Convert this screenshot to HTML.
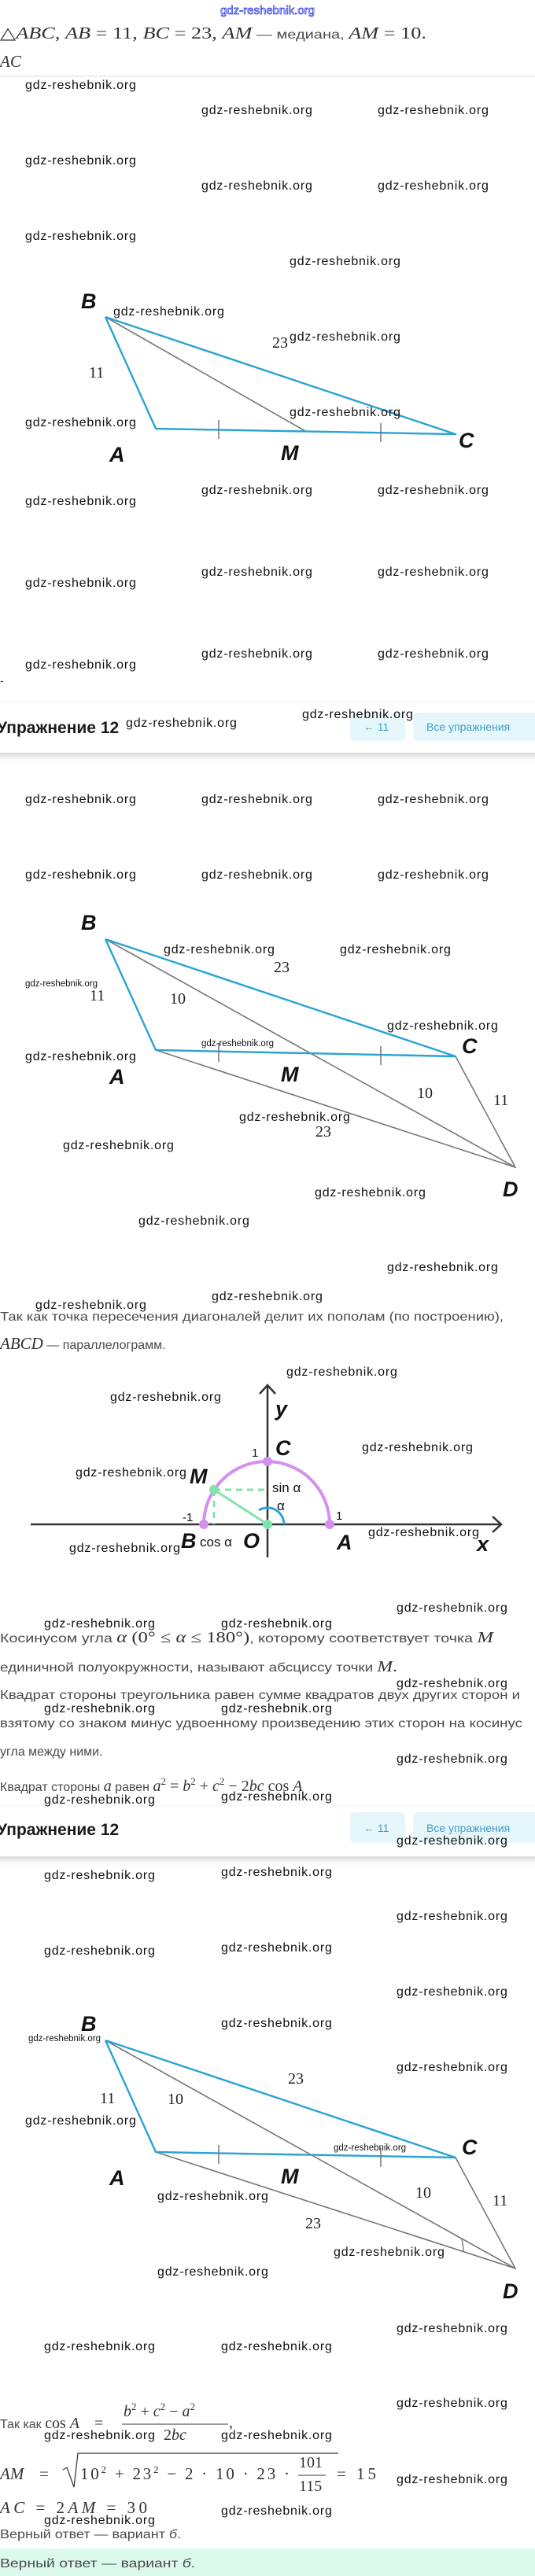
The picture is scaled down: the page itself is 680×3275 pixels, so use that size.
<!DOCTYPE html>
<html><head><meta charset="utf-8">
<style>
html,body{margin:0;padding:0;background:#fff;}
svg{display:block;}
.wm{font-family:"Liberation Sans",sans-serif;font-size:16px;fill:#111;letter-spacing:0.8px;}
.wms{font-family:"Liberation Sans",sans-serif;font-size:11.5px;fill:#111;}
.t{font-family:"Liberation Sans",sans-serif;font-size:16px;fill:#4a4a4a;}
.m{font-family:"Liberation Serif",serif;font-style:italic;fill:#333;}
.n{font-family:"Liberation Serif",serif;fill:#333;}
.lbl{font-family:"Liberation Sans",sans-serif;font-weight:bold;font-style:italic;font-size:27px;fill:#111;}
.num{font-family:"Liberation Serif",serif;font-size:20px;fill:#222;}
.hd{font-family:"Liberation Sans",sans-serif;font-weight:bold;font-size:21px;fill:#1a1a1a;}
.bt{font-family:"Liberation Sans",sans-serif;font-size:14px;fill:#3f9cc9;}
</style></head><body>
<svg width="680" height="3275" viewBox="0 0 680 3275" xmlns="http://www.w3.org/2000/svg">
<defs>
<filter id="sh" x="-5%" y="-50%" width="110%" height="200%"><feDropShadow dx="0" dy="4" stdDeviation="4" flood-color="#000" flood-opacity="0.18"/></filter>
</defs>

<!-- top -->
<text x="340" y="18" text-anchor="middle" font-family="Liberation Sans, sans-serif" font-size="15" fill="#fff" stroke="#3344dd" stroke-width="0.8">gdz-reshebnik.org</text>
<text y="49" x="0" font-size="21" textLength="542" lengthAdjust="spacingAndGlyphs"><tspan class="n">△</tspan><tspan class="m">ABC</tspan><tspan class="n">, </tspan><tspan class="m">AB</tspan><tspan class="n"> = 11, </tspan><tspan class="m">BC</tspan><tspan class="n"> = 23, </tspan><tspan class="m">AM</tspan><tspan class="t" font-size="16"> — медиана, </tspan><tspan class="m">AM</tspan><tspan class="n"> = 10.</tspan></text>
<text x="0" y="85" class="m" font-size="21">AC</text>
<line x1="0" y1="97" x2="680" y2="97" stroke="#eee" stroke-width="2"/>

<!-- triangle 1 -->
<g fill="none">
<line x1="134" y1="403" x2="388" y2="548" stroke="#777" stroke-width="1.6"/>
<polyline points="134,403 198,545 579,552 134,403" stroke="#2aa3d3" stroke-width="2.4" stroke-linejoin="round"/>
<line x1="278" y1="534" x2="278" y2="558" stroke="#777" stroke-width="1.5"/>
<line x1="484" y1="538" x2="484" y2="562" stroke="#777" stroke-width="1.5"/>
</g>
<text class="lbl" x="103" y="392">B</text>
<text class="lbl" x="139" y="587">A</text>
<text class="lbl" x="357" y="585">M</text>
<text class="lbl" x="583" y="569">C</text>
<text class="num" x="113" y="480">11</text>
<text class="num" x="346" y="442">23</text>

<!-- header 1 -->
<text x="0" y="870" font-family="Liberation Sans" font-size="14" fill="#333">-</text>
<rect x="-10" y="893" width="700" height="64" fill="#fff" filter="url(#sh)"/>
<text class="hd" x="-4" y="932">Упражнение 12</text>
<rect x="445" y="906" width="70" height="36" rx="6" fill="#e6f7fb"/>
<text class="bt" x="462" y="929">←  11</text>
<rect x="525" y="906" width="170" height="36" rx="6" fill="#e6f7fb"/>
<text class="bt" x="542" y="929">Все упражнения</text>

<!-- parallelogram 1 -->
<g fill="none">
<line x1="134" y1="1194" x2="655" y2="1484" stroke="#777" stroke-width="1.6"/>
<polyline points="198,1335 655,1484 579,1343" stroke="#777" stroke-width="1.6"/>
<polyline points="134,1194 198,1335 579,1343 134,1194" stroke="#2aa3d3" stroke-width="2.4" stroke-linejoin="round"/>
<line x1="278" y1="1326" x2="278" y2="1350" stroke="#777" stroke-width="1.5"/>
<line x1="484" y1="1330" x2="484" y2="1354" stroke="#777" stroke-width="1.5"/>
</g>
<text class="lbl" x="103" y="1182">B</text>
<text class="lbl" x="139" y="1378">A</text>
<text class="lbl" x="357" y="1375">M</text>
<text class="lbl" x="587" y="1339">C</text>
<text class="lbl" x="639" y="1521">D</text>
<text class="num" x="348" y="1236">23</text>
<text class="num" x="114" y="1272">11</text>
<text class="num" x="216" y="1276">10</text>
<text class="num" x="530" y="1396">10</text>
<text class="num" x="627" y="1405">11</text>
<text class="num" x="401" y="1445">23</text>

<!-- text -->
<text class="t" x="0" y="1679" textLength="640" lengthAdjust="spacingAndGlyphs">Так как точка пересечения диагоналей делит их пополам (по построению),</text>
<text x="0" y="1715"><tspan class="m" font-size="21">ABCD</tspan><tspan class="t"> — параллелограмм.</tspan></text>

<!-- coordinate diagram -->
<g>
<line x1="39" y1="1938" x2="637" y2="1938" stroke="#333" stroke-width="2.5"/>
<polyline points="626,1928 637,1938 626,1948" fill="none" stroke="#333" stroke-width="2.5"/>
<line x1="340" y1="1980" x2="340" y2="1761" stroke="#333" stroke-width="2.5"/>
<polyline points="330,1772 340,1761 350,1772" fill="none" stroke="#333" stroke-width="2.5"/>
<path d="M259,1938 A80,80 0 0 1 419,1938" fill="none" stroke="#d590ee" stroke-width="4"/>
<line x1="272" y1="1894" x2="340" y2="1894" stroke="#80e3ad" stroke-width="3" stroke-dasharray="8,6"/>
<line x1="272" y1="1894" x2="272" y2="1938" stroke="#80e3ad" stroke-width="3" stroke-dasharray="8,6"/>
<line x1="272" y1="1894" x2="340" y2="1938" stroke="#80e3ad" stroke-width="3"/>
<path d="M361,1938 A21,21 0 0 0 329,1920" fill="none" stroke="#2aa3d8" stroke-width="3"/>
<circle cx="259" cy="1938" r="6" fill="#d590ee"/>
<circle cx="419" cy="1938" r="6" fill="#d590ee"/>
<circle cx="340" cy="1858" r="6" fill="#d590ee"/>
<circle cx="272" cy="1894" r="6" fill="#80e3ad"/>
<circle cx="340" cy="1938" r="6" fill="#80e3ad"/>
</g>
<text class="lbl" x="350" y="1800">y</text>
<text class="lbl" x="350" y="1850">C</text>
<text x="320" y="1852" font-family="Liberation Sans" font-size="15" fill="#111">1</text>
<text class="lbl" x="241" y="1886">M</text>
<text x="346" y="1897" font-family="Liberation Sans" font-size="17" fill="#111">sin α</text>
<text x="352" y="1920" font-family="Liberation Sans" font-size="17" fill="#111">α</text>
<text x="232" y="1934" font-family="Liberation Sans" font-size="15" fill="#111">-1</text>
<text x="427" y="1932" font-family="Liberation Sans" font-size="15" fill="#111">1</text>
<text class="lbl" x="230" y="1968">B</text>
<text x="254" y="1966" font-family="Liberation Sans" font-size="17" fill="#111">cos α</text>
<text class="lbl" x="309" y="1968">O</text>
<text class="lbl" x="428" y="1970">A</text>
<text class="lbl" x="606" y="1972">x</text>

<!-- paragraphs -->
<text x="0" y="2088" textLength="627" lengthAdjust="spacingAndGlyphs"><tspan class="t">Косинусом угла </tspan><tspan class="m" font-size="20">α </tspan><tspan class="n" font-size="20">(0° ≤ </tspan><tspan class="m" font-size="20">α</tspan><tspan class="n" font-size="20"> ≤ 180°)</tspan><tspan class="t">, которому соответствует точка </tspan><tspan class="m" font-size="20">M</tspan></text>
<text class="t" x="0" y="2125" textLength="505" lengthAdjust="spacingAndGlyphs"><tspan>единичной полуокружности, называют абсциссу точки </tspan><tspan class="m" font-size="20">M</tspan><tspan class="n" font-size="20">.</tspan></text>
<text class="t" x="0" y="2160" textLength="661" lengthAdjust="spacingAndGlyphs">Квадрат стороны треугольника равен сумме квадратов двух других сторон и</text>
<text class="t" x="0" y="2196" textLength="664" lengthAdjust="spacingAndGlyphs">взятому со знаком минус удвоенному произведению этих сторон на косинус</text>
<text class="t" x="0" y="2232">угла между ними.</text>
<text x="0" y="2277"><tspan class="t">Квадрат стороны </tspan><tspan class="m" font-size="20">a</tspan><tspan class="t"> равен </tspan><tspan class="m" font-size="20">a</tspan><tspan class="n" font-size="13" dy="-8">2</tspan><tspan class="n" font-size="20" dy="8"> = </tspan><tspan class="m" font-size="20">b</tspan><tspan class="n" font-size="13" dy="-8">2</tspan><tspan class="n" font-size="20" dy="8"> + </tspan><tspan class="m" font-size="20">c</tspan><tspan class="n" font-size="13" dy="-8">2</tspan><tspan class="n" font-size="20" dy="8"> − 2</tspan><tspan class="m" font-size="20">bc</tspan><tspan class="n" font-size="20"> cos </tspan><tspan class="m" font-size="20">A</tspan></text>

<!-- header 2 -->
<rect x="-10" y="2296" width="700" height="64" fill="#fff" filter="url(#sh)"/>
<text class="hd" x="-4" y="2333">Упражнение 12</text>
<rect x="445" y="2304" width="70" height="39" rx="6" fill="#e6f7fb"/>
<text class="bt" x="462" y="2329">←  11</text>
<rect x="525" y="2304" width="170" height="39" rx="6" fill="#e6f7fb"/>
<text class="bt" x="542" y="2329">Все упражнения</text>

<!-- parallelogram 2 -->
<g fill="none">
<line x1="134" y1="2594" x2="655" y2="2884" stroke="#777" stroke-width="1.6"/>
<polyline points="198,2736 655,2884 579,2743" stroke="#777" stroke-width="1.6"/>
<polyline points="134,2594 198,2736 579,2743 134,2594" stroke="#2aa3d3" stroke-width="2.4" stroke-linejoin="round"/>
<line x1="278" y1="2727" x2="278" y2="2751" stroke="#777" stroke-width="1.5"/>
<line x1="484" y1="2731" x2="484" y2="2755" stroke="#777" stroke-width="1.5"/>
<path d="M589,2863 A70,70 0 0 0 587,2847" stroke="#777" stroke-width="1.4"/>
</g>
<text class="lbl" x="103" y="2582">B</text>
<text class="lbl" x="139" y="2778">A</text>
<text class="lbl" x="357" y="2776">M</text>
<text class="lbl" x="587" y="2739">C</text>
<text class="lbl" x="639" y="2922">D</text>
<text class="num" x="366" y="2649">23</text>
<text class="num" x="127" y="2674">11</text>
<text class="num" x="213" y="2675">10</text>
<text class="num" x="528" y="2794">10</text>
<text class="num" x="626" y="2804">11</text>
<text class="num" x="388" y="2833">23</text>

<!-- final formulas -->
<text x="0" y="3087"><tspan class="t">Так как </tspan><tspan class="n" font-size="20">cos </tspan><tspan class="m" font-size="20">A</tspan></text>
<text x="120" y="3087" class="n" font-size="20">=</text>
<text x="157" y="3072" font-size="20"><tspan class="m">b</tspan><tspan class="n" font-size="13" dy="-8">2</tspan><tspan class="n" dy="8">  +  </tspan><tspan class="m">c</tspan><tspan class="n" font-size="13" dy="-8">2</tspan><tspan class="n" dy="8">  −  </tspan><tspan class="m">a</tspan><tspan class="n" font-size="13" dy="-8">2</tspan></text>
<line x1="155" y1="3082" x2="290" y2="3082" stroke="#333" stroke-width="1"/>
<text x="291" y="3086" class="n" font-size="20">,</text>
<text x="208" y="3102" font-size="20"><tspan class="n">2</tspan><tspan class="m">bc</tspan></text>

<polyline points="80,3140 85,3137 94,3162 99,3119 430,3119" fill="none" stroke="#333" stroke-width="1.2"/>
<text x="0" y="3152" font-size="21" class="m">AM</text>
<text x="50" y="3152" font-size="21" class="n">=</text>
<text x="102" y="3152" font-size="21" class="n" textLength="266" lengthAdjust="spacing"><tspan>10</tspan><tspan font-size="13" dy="-8">2</tspan><tspan dy="8">  +  23</tspan><tspan font-size="13" dy="-8">2</tspan><tspan dy="8">  −  2  ·  10  ·  23  ·</tspan></text>
<text x="380" y="3137" font-size="20" class="n">101</text>
<line x1="379" y1="3147" x2="414" y2="3147" stroke="#333" stroke-width="1"/>
<text x="380" y="3167" font-size="20" class="n">115</text>
<text x="428" y="3152" font-size="21" class="n" textLength="50" lengthAdjust="spacing">=  15</text>
<text x="0" y="3195" font-size="21" textLength="187" lengthAdjust="spacing"><tspan class="m">AC</tspan><tspan class="n">  =  2</tspan><tspan class="m">AM</tspan><tspan class="n">  =  30</tspan></text>
<text class="t" x="0" y="3227" textLength="230" lengthAdjust="spacingAndGlyphs">Верный ответ — вариант <tspan font-style="italic">б</tspan>.</text>
<rect x="0" y="3240" width="680" height="35" fill="#dcfaec"/>
<text class="t" x="0" y="3264" font-size="17" textLength="248" lengthAdjust="spacingAndGlyphs">Верный ответ — вариант <tspan font-style="italic">б</tspan>.</text>

<!-- watermarks -->
<g class="wm">
<text x="32" y="113">gdz-reshebnik.org</text>
<text x="256" y="145">gdz-reshebnik.org</text>
<text x="480" y="145">gdz-reshebnik.org</text>
<text x="32" y="209">gdz-reshebnik.org</text>
<text x="256" y="241">gdz-reshebnik.org</text>
<text x="480" y="241">gdz-reshebnik.org</text>
<text x="32" y="305">gdz-reshebnik.org</text>
<text x="368" y="337">gdz-reshebnik.org</text>
<text x="144" y="401">gdz-reshebnik.org</text>
<text x="368" y="433">gdz-reshebnik.org</text>
<text x="32" y="542">gdz-reshebnik.org</text>
<text x="368" y="529">gdz-reshebnik.org</text>
<text x="256" y="628">gdz-reshebnik.org</text>
<text x="480" y="628">gdz-reshebnik.org</text>
<text x="32" y="642">gdz-reshebnik.org</text>
<text x="256" y="732">gdz-reshebnik.org</text>
<text x="480" y="732">gdz-reshebnik.org</text>
<text x="32" y="746">gdz-reshebnik.org</text>
<text x="256" y="836">gdz-reshebnik.org</text>
<text x="480" y="836">gdz-reshebnik.org</text>
<text x="32" y="850">gdz-reshebnik.org</text>
<text x="160" y="924">gdz-reshebnik.org</text>
<text x="384" y="913">gdz-reshebnik.org</text>
<text x="32" y="1021">gdz-reshebnik.org</text>
<text x="256" y="1021">gdz-reshebnik.org</text>
<text x="480" y="1021">gdz-reshebnik.org</text>
<text x="32" y="1117">gdz-reshebnik.org</text>
<text x="256" y="1117">gdz-reshebnik.org</text>
<text x="480" y="1117">gdz-reshebnik.org</text>
<text x="208" y="1212">gdz-reshebnik.org</text>
<text x="432" y="1212">gdz-reshebnik.org</text>
<text x="492" y="1309">gdz-reshebnik.org</text>
<text x="32" y="1348">gdz-reshebnik.org</text>
<text x="304" y="1425">gdz-reshebnik.org</text>
<text x="80" y="1461">gdz-reshebnik.org</text>
<text x="400" y="1521">gdz-reshebnik.org</text>
<text x="176" y="1557">gdz-reshebnik.org</text>
<text x="492" y="1616">gdz-reshebnik.org</text>
<text x="269" y="1653">gdz-reshebnik.org</text>
<text x="45" y="1664">gdz-reshebnik.org</text>
<text x="364" y="1749">gdz-reshebnik.org</text>
<text x="140" y="1781">gdz-reshebnik.org</text>
<text x="460" y="1845">gdz-reshebnik.org</text>
<text x="96" y="1877">gdz-reshebnik.org</text>
<text x="468" y="1953">gdz-reshebnik.org</text>
<text x="88" y="1973">gdz-reshebnik.org</text>
<text x="504" y="2049">gdz-reshebnik.org</text>
<text x="56" y="2069">gdz-reshebnik.org</text>
<text x="281" y="2069">gdz-reshebnik.org</text>
<text x="504" y="2145">gdz-reshebnik.org</text>
<text x="56" y="2177">gdz-reshebnik.org</text>
<text x="281" y="2177">gdz-reshebnik.org</text>
<text x="504" y="2241">gdz-reshebnik.org</text>
<text x="56" y="2293">gdz-reshebnik.org</text>
<text x="281" y="2289">gdz-reshebnik.org</text>
<text x="504" y="2345">gdz-reshebnik.org</text>
<text x="56" y="2389">gdz-reshebnik.org</text>
<text x="281" y="2385">gdz-reshebnik.org</text>
<text x="504" y="2441">gdz-reshebnik.org</text>
<text x="56" y="2485">gdz-reshebnik.org</text>
<text x="281" y="2481">gdz-reshebnik.org</text>
<text x="504" y="2537">gdz-reshebnik.org</text>
<text x="281" y="2577">gdz-reshebnik.org</text>
<text x="504" y="2633">gdz-reshebnik.org</text>
<text x="32" y="2701">gdz-reshebnik.org</text>
<text x="200" y="2797">gdz-reshebnik.org</text>
<text x="424" y="2868">gdz-reshebnik.org</text>
<text x="200" y="2893">gdz-reshebnik.org</text>
<text x="504" y="2965">gdz-reshebnik.org</text>
<text x="56" y="2988">gdz-reshebnik.org</text>
<text x="281" y="2988">gdz-reshebnik.org</text>
<text x="504" y="3060">gdz-reshebnik.org</text>
<text x="56" y="3101">gdz-reshebnik.org</text>
<text x="281" y="3101">gdz-reshebnik.org</text>
<text x="504" y="3157">gdz-reshebnik.org</text>
<text x="281" y="3197">gdz-reshebnik.org</text>
<text x="56" y="3209">gdz-reshebnik.org</text>
</g>
<g class="wms">
<text x="32" y="1254">gdz-reshebnik.org</text>
<text x="256" y="1330">gdz-reshebnik.org</text>
<text x="36" y="2595">gdz-reshebnik.org</text>
<text x="424" y="2734">gdz-reshebnik.org</text>
</g>
</svg>
</body></html>
